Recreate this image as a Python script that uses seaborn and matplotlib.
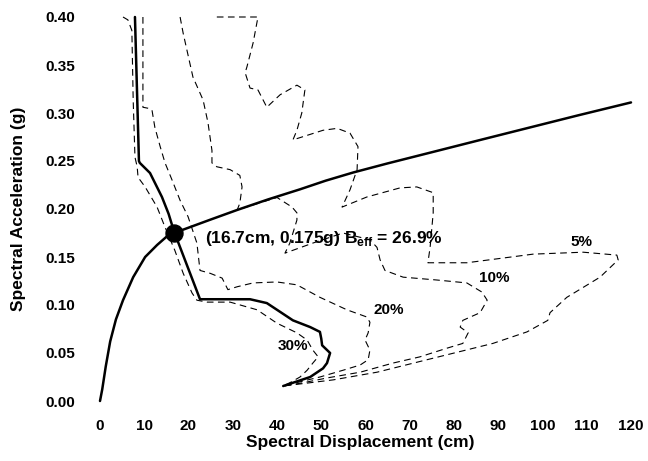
import matplotlib
matplotlib.use("Agg")
import matplotlib.pyplot as plt
import seaborn as sns

# ---------------- data ----------------
cap_sd = [0, 0.5, 1.3, 2.3, 3.6, 5.2, 7.5, 10.2, 12.9, 15.0, 16.7, 18.8, 25.0,
          31.0, 38.0, 45.2, 51.0, 57.2, 65.0, 75.3, 86.0, 97.9, 108.0, 120.0]
cap_sa = [0, 0.012, 0.036, 0.062, 0.085, 0.105, 0.129, 0.150, 0.1625, 0.171,
          0.175, 0.1785, 0.189, 0.199, 0.210, 0.2205, 0.2295, 0.238, 0.2475,
          0.2595, 0.272, 0.2858, 0.2975, 0.311]

dem_sd = [7.9, 8.8, 9.0, 11.3, 14.0, 15.5, 16.7, 22.6, 33.9, 37.7, 40.0, 43.6,
          47.5, 49.7, 50.0, 50.2, 52.0, 51.3, 50.4, 47.5, 43.6, 41.4]
dem_sa = [0.400, 0.250, 0.248, 0.2375, 0.2125, 0.195, 0.177, 0.106, 0.106, 0.102,
          0.095, 0.084, 0.077, 0.072, 0.065, 0.058, 0.050, 0.0395, 0.034, 0.025,
          0.019, 0.0156]

d5_sd = [26.4, 35.7, 34.6, 33.2, 32.8, 33.9, 35.7, 37.7, 40.7, 44.5, 46.3, 45.6,
         44.5, 43.6, 50.4, 53.6, 56.5, 58.3, 58.1, 56.5, 54.7, 60.3, 67.8, 71.6,
         75.3, 75.3, 74.6, 74.1, 82.9, 97.9, 109.2, 116.8, 117.1, 113.0, 105.5,
         101.7, 101.2, 96.5, 88.8, 73.9, 62.6, 52.7, 41.4]
d5_sa = [0.400, 0.400, 0.373, 0.348, 0.342, 0.326, 0.324, 0.306, 0.319, 0.329,
         0.324, 0.300, 0.282, 0.272, 0.282, 0.284, 0.279, 0.265, 0.241, 0.220,
         0.202, 0.2125, 0.222, 0.223, 0.217, 0.196, 0.160, 0.144, 0.144, 0.153,
         0.155, 0.152, 0.147, 0.129, 0.108, 0.092, 0.084, 0.072, 0.060, 0.043,
         0.030, 0.022, 0.0156]

d10_sd = [18.1, 18.8, 21.0, 23.3, 24.4, 25.3, 25.3, 26.4, 29.4, 31.6, 32.1, 31.6,
          31.0, 40.0, 43.4, 44.5, 44.5, 42.9, 41.8, 48.1, 54.9, 61.0, 62.6, 63.3,
          64.4, 68.5, 76.2, 82.9, 86.3, 87.5, 85.9, 82.0, 81.4, 83.2, 82.0, 78.4,
          72.3, 66.2, 58.8, 51.3, 45.9, 41.4]
d10_sa = [0.400, 0.383, 0.3375, 0.3135, 0.290, 0.261, 0.248, 0.244, 0.241, 0.235,
          0.223, 0.206, 0.199, 0.212, 0.202, 0.196, 0.1885, 0.1645, 0.154, 0.1645,
          0.175, 0.168, 0.160, 0.147, 0.136, 0.129, 0.126, 0.123, 0.1135, 0.105,
          0.092, 0.084, 0.077, 0.071, 0.060, 0.055, 0.046, 0.0395, 0.030, 0.024,
          0.019, 0.0156]

d20_sd = [9.7, 9.7, 10.8, 11.75, 12.4, 13.6, 14.7, 16.3, 18.1, 19.9, 21.9, 22.6,
          24.9, 27.6, 28.9, 31.0, 34.6, 40.0, 44.5, 49.7, 55.8, 60.3, 61.0, 60.6,
          59.9, 61.0, 60.6, 58.8, 54.9, 49.7, 45.2, 41.4]
d20_sa = [0.400, 0.306, 0.305, 0.303, 0.285, 0.265, 0.248, 0.230, 0.209, 0.192,
          0.1645, 0.136, 0.133, 0.128, 0.116, 0.119, 0.123, 0.124, 0.121, 0.108,
          0.095, 0.0875, 0.082, 0.071, 0.0635, 0.053, 0.043, 0.0375, 0.032, 0.025,
          0.020, 0.0156]

d30_sd = [5.2, 6.3, 7.2, 7.5, 7.9, 8.4, 8.6, 10.2, 12.9, 14.7, 16.9, 18.8, 20.8,
          21.9, 24.2, 29.4, 35.5, 40.0, 44.5, 46.8, 48.1, 49.3, 48.1, 46.8, 45.2,
          42.9, 41.4]
d30_sa = [0.400, 0.397, 0.386, 0.3135, 0.254, 0.244, 0.233, 0.223, 0.202, 0.181,
          0.157, 0.133, 0.1125, 0.105, 0.103, 0.103, 0.095, 0.081, 0.071, 0.0635,
          0.053, 0.046, 0.0395, 0.032, 0.025, 0.019, 0.0156]

perf_point = (16.7, 0.175)
annot_text = "(16.7cm, 0.175g) B$_\\mathbf{eff}$ = 26.9%"
damp_labels = ["5%", "10%", "20%", "30%"]
damp_label_pos = [(108.9, 0.1656), (89.0, 0.1286), (65.3, 0.0943), (43.6, 0.0568)]

xticks = list(range(0, 121, 10))
yticks = [0.00, 0.05, 0.10, 0.15, 0.20, 0.25, 0.30, 0.35, 0.40]

# ---------------- style ----------------
sns.set_theme(style="white")
plt.rcParams["font.family"] = ["Liberation Sans", "DejaVu Sans"]
plt.rcParams["font.weight"] = "bold"
plt.rcParams["mathtext.fontset"] = "custom"
plt.rcParams["mathtext.bf"] = "Liberation Sans:bold"
plt.rcParams["mathtext.rm"] = "Liberation Sans:bold"
for key in ["text.color", "axes.labelcolor", "xtick.color", "ytick.color"]:
    plt.rcParams[key] = "black"

fig = plt.figure(figsize=(6.48, 4.61), dpi=100)
ax = fig.add_axes([100 / 648, 1 - 401 / 461, 531 / 648, 384 / 461])

dash = (0, (6, 4))
for sd, sa in [(d5_sd, d5_sa), (d10_sd, d10_sa), (d20_sd, d20_sa), (d30_sd, d30_sa)]:
    sns.lineplot(x=sd, y=sa, sort=False, estimator=None, ax=ax, color="black",
                 linewidth=0.8, linestyle=dash, clip_on=False)

sns.lineplot(x=cap_sd, y=cap_sa, sort=False, estimator=None, ax=ax, color="black",
             linewidth=1.8, clip_on=False)
sns.lineplot(x=dem_sd, y=dem_sa, sort=False, estimator=None, ax=ax, color="black",
             linewidth=1.8, clip_on=False)
sns.scatterplot(x=[perf_point[0]], y=[perf_point[1]], ax=ax, color="black",
                s=150, edgecolor="black", zorder=5, clip_on=False)

ax.text(23.7, 0.1646, annot_text, fontsize=12.5, fontweight="bold",
        ha="left", va="baseline", color="black")
for lab, (x, y) in zip(damp_labels, damp_label_pos):
    ax.text(x, y, lab, fontsize=11, fontweight="bold", ha="center", va="center",
            color="black")

ax.set_xlim(0, 120)
ax.set_ylim(0, 0.40)
ax.set_xticks(xticks)
ax.set_xticklabels([str(v) for v in xticks], fontsize=11, fontweight="bold")
ax.set_yticks(yticks)
ax.set_yticklabels([f"{v:.2f}" for v in yticks], fontsize=11, fontweight="bold")
ax.tick_params(axis="both", length=0, colors="black")
ax.tick_params(axis="x", pad=13)
ax.tick_params(axis="y", pad=18)
sns.despine(ax=ax, left=True, bottom=True)
ax.grid(False)

ax.set_xlabel("Spectral Displacement (cm)", fontsize=12.5, fontweight="bold",
              color="black")
ax.set_ylabel("Spectral Acceleration (g)", fontsize=12.5, fontweight="bold",
              color="black")
ax.xaxis.set_label_coords((360 - 100) / 531, (401 - 435) / 384)
ax.yaxis.set_label_coords((26 - 100) / 531, (401 - 209) / 384)

fig.savefig("out.png", dpi=100)
